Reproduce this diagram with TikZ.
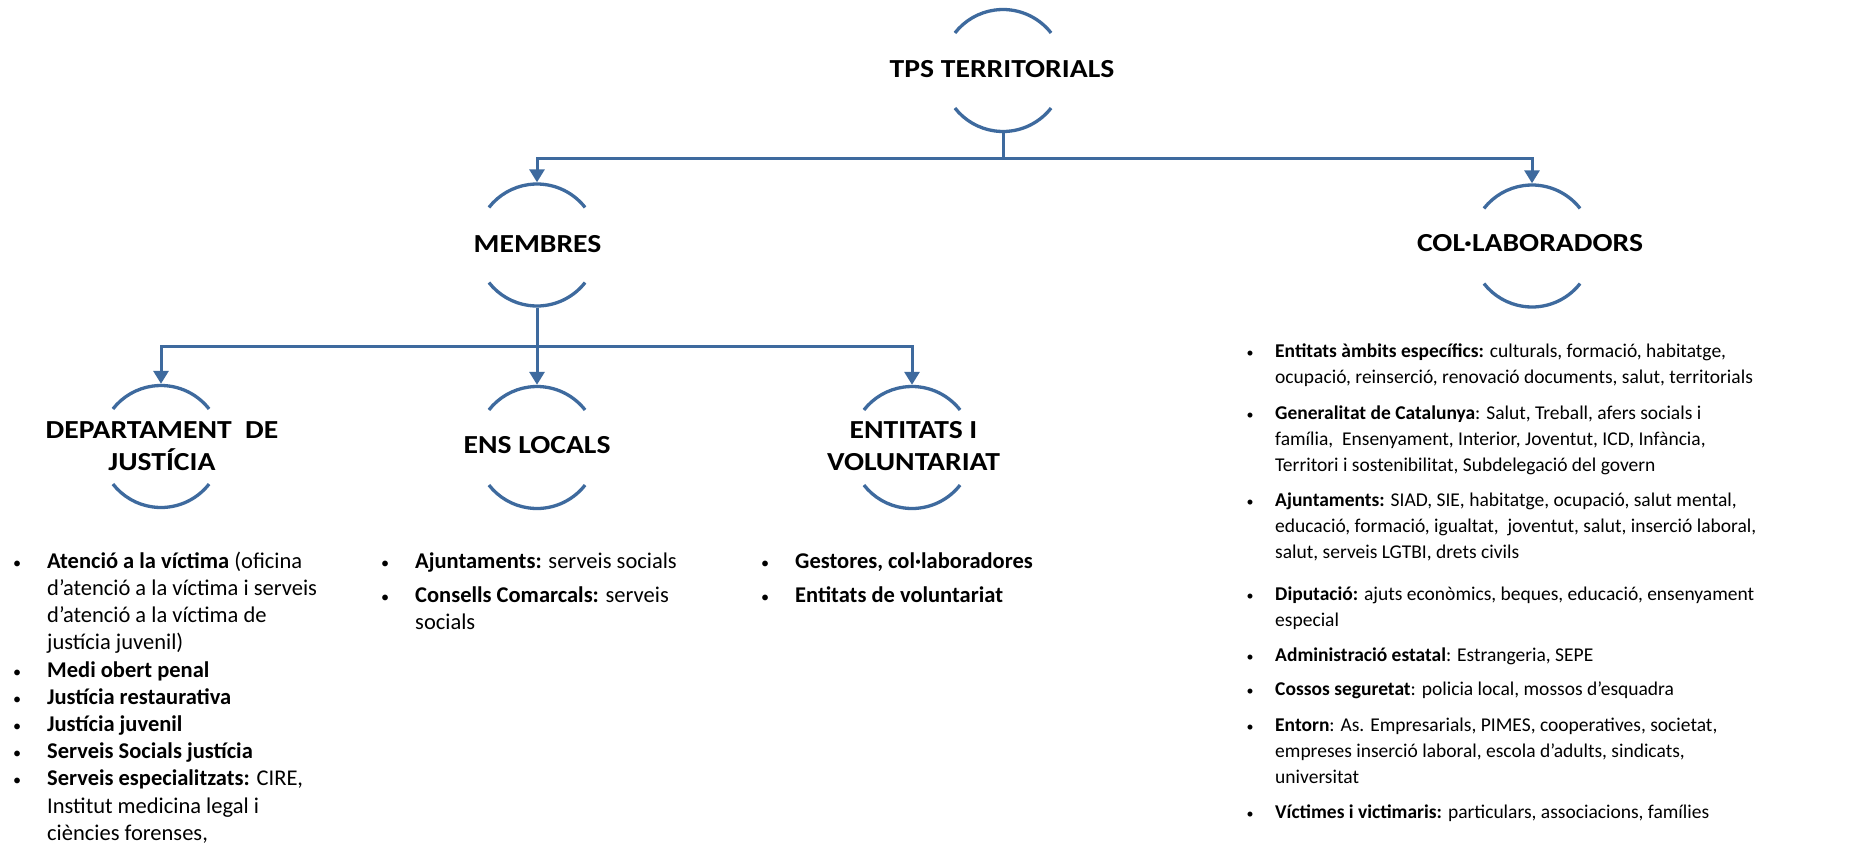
\documentclass[tikz,border=0pt]{standalone}
\usepackage{fontspec}
\setmainfont{Carlito}
\newfontfamily\hdrfont{Carlito}[FakeStretch=1.14]
\usetikzlibrary{arrows.meta}
\definecolor{lnblue}{RGB}{62,106,158}
\newcommand\myitem[2]{\par\hangindent=#1\hangafter=1\noindent\makebox[#1][l]{\hspace{1.5pt}\scalebox{0.72}{\textbullet}}#2}
\newcommand\ringarcs[1]{%
  \draw[ringline] ([shift={(-38:61)}]#1.center) arc[start angle=-38,end angle=-142,radius=61];
  \draw[ringline] ([shift={(38:61)}]#1.center) arc[start angle=38,end angle=142,radius=61];}
\begin{document}
\begin{tikzpicture}[x=1pt,y=-1pt,
  ring/.style={circle, minimum size=125pt, inner sep=0pt},
  ringline/.style={draw=lnblue, line width=3.3pt},
  hdrtext/.style={font=\hdrfont\bfseries\fontsize{26}{31.7}\selectfont, inner sep=0pt, anchor=base},
  conn/.style={draw=lnblue, line width=3pt},
  arr/.style={conn, -{Triangle[length=13pt,width=15pt]}},
  biglist/.style={font=\fontsize{22.5}{27.2}\selectfont, inner sep=0pt, anchor=base west},
  smalllist/.style={font=\fontsize{19.5}{26}\selectfont, inner sep=0pt, anchor=base west},
  ]
\useasboundingbox (0,0) rectangle (1857,846);
\fill[white] (0,0) rectangle (1857,846);

% rings
\node[ring] (tps) at (1003,70.5) {};
\node[ring] (mem) at (537,245) {};
\node[ring] (col) at (1532,246) {};
\node[ring] (dep) at (161,446.5) {};
\node[ring] (ens) at (537,447.5) {};
\node[ring] (ent) at (912,447.5) {};
\ringarcs{tps}
\ringarcs{mem}
\ringarcs{col}
\ringarcs{dep}
\ringarcs{ens}
\ringarcs{ent}

% header texts
\node[hdrtext] (tpst) at (1002,77.3) {TPS TERRITORIALS};
\node[hdrtext] (memt) at (537.5,252.3) {MEMBRES};
\node[hdrtext] (colt) at (1530,251.7) {COL·LABORADORS};
\node[hdrtext] (dept) at (162,438.3) {\parbox[t]{320pt}{\centering DEPARTAMENT\ \ DE\\JUSTÍCIA}};
\node[hdrtext] (enst) at (537,453.3) {ENS LOCALS};
\node[hdrtext] (entt) at (913.5,438.3) {\parbox[t]{320pt}{\centering ENTITATS I\\VOLUNTARIAT}};

% connectors
\coordinate (b1) at (1003,158.5);
\coordinate (b2) at (537,346.7);
\draw[conn] (tps.south) -- (b1);
\draw[arr] (b1) -| (mem.north);
\draw[arr] (b1) -| (col.north);
\draw[arr] (mem.south) -- (ens.north);
\draw[arr] (b2) -| (dep.north);
\draw[arr] (b2) -| (ent.north);

% left list
\node[biglist] (ldep) at (11.5,568.3) {\parbox[t]{420pt}{\raggedright
\myitem{35.5pt}{\textbf{Atenció a la víctima} (oficina\newline d’atenció a la víctima i serveis\newline d’atenció a la víctima de\newline justícia juvenil)}
\myitem{35.5pt}{\textbf{Medi obert penal}}
\myitem{35.5pt}{\textbf{Justícia restaurativa}}
\myitem{35.5pt}{\textbf{Justícia juvenil}}
\myitem{35.5pt}{\textbf{Serveis Socials justícia}}
\myitem{35.5pt}{\textbf{Serveis especialitzats:} CIRE,\newline Institut medicina legal i\newline ciències forenses,}}};

% middle lists
\node[biglist] (lens1) at (379.5,568.3) {\parbox[t]{400pt}{\raggedright\myitem{35.5pt}{\textbf{Ajuntaments:} serveis socials}}};
\node[biglist] (lens2) at (379.5,602.7) {\parbox[t]{400pt}{\raggedright\myitem{35.5pt}{\textbf{Consells Comarcals:} serveis\newline socials}}};
\node[biglist] (lent1) at (759.5,568.3) {\parbox[t]{400pt}{\raggedright\myitem{35.5pt}{\textbf{Gestores, col·laboradores}}}};
\node[biglist] (lent2) at (759.5,602.7) {\parbox[t]{400pt}{\raggedright\myitem{35.5pt}{\textbf{Entitats de voluntariat}}}};

% right list
\node[smalllist] (r1) at (1245,357) {\parbox[t]{600pt}{\raggedright\myitem{30pt}{\textbf{Entitats àmbits específics:} culturals, formació, habitatge,\newline ocupació, reinserció, renovació documents, salut, territorials}}};
\node[smalllist] (r2) at (1245,419.5) {\parbox[t]{600pt}{\raggedright\myitem{30pt}{\textbf{Generalitat de Catalunya}: Salut, Treball, afers socials i\newline família,\ \ Ensenyament, Interior, Joventut, ICD, Infància,\newline Territori i sostenibilitat, Subdelegació del govern}}};
\node[smalllist] (r3) at (1245,506) {\parbox[t]{600pt}{\raggedright\myitem{30pt}{\textbf{Ajuntaments:} SIAD, SIE, habitatge, ocupació, salut mental,\newline educació, formació, igualtat,\ \ joventut, salut, inserció laboral,\newline salut, serveis LGTBI, drets civils}}};
\node[smalllist] (r4) at (1245,600.7) {\parbox[t]{600pt}{\raggedright\myitem{30pt}{\textbf{Diputació:} ajuts econòmics, beques, educació, ensenyament\newline especial}}};
\node[smalllist] (r5) at (1245,661) {\parbox[t]{600pt}{\raggedright\myitem{30pt}{\textbf{Administració estatal}: Estrangeria, SEPE}}};
\node[smalllist] (r6) at (1245,695) {\parbox[t]{600pt}{\raggedright\myitem{30pt}{\textbf{Cossos seguretat}: policia local, mossos d’esquadra}}};
\node[smalllist] (r7) at (1245,731) {\parbox[t]{600pt}{\raggedright\myitem{30pt}{\textbf{Entorn}: As. Empresarials, PIMES, cooperatives, societat,\newline empreses inserció laboral, escola d’adults, sindicats,\newline universitat}}};
\node[smalllist] (r8) at (1245,818.6) {\parbox[t]{600pt}{\raggedright\myitem{30pt}{\textbf{Víctimes i victimaris:} particulars, associacions, famílies}}};
\end{tikzpicture}
\end{document}
